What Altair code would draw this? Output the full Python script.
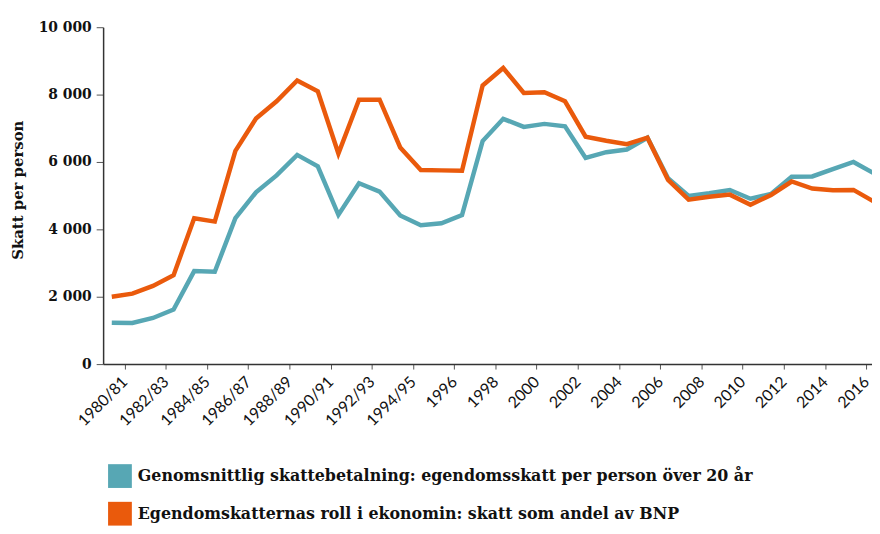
import altair as alt
import pandas as pd

periods = ["1980/81", "1981/82", "1982/83", "1983/84", "1984/85", "1985/86",
           "1986/87", "1987/88", "1988/89", "1989/90", "1990/91", "1991/92",
           "1992/93", "1993/94", "1994/95", "1995", "1996", "1997", "1998",
           "1999", "2000", "2001", "2002", "2003", "2004", "2005", "2006",
           "2007", "2008", "2009", "2010", "2011", "2012", "2013", "2014",
           "2015", "2016", "2017"]

per_person = [1230, 1220, 1370, 1620, 2760, 2740, 4330, 5100, 5600, 6210,
              5870, 4430, 5370, 5120, 4410, 4120, 4180, 4420, 6620, 7280,
              7040, 7130, 7060, 6120, 6290, 6370, 6720, 5520, 4990, 5070,
              5170, 4910, 5050, 5560, 5570, 5790, 6000, 5660]

share_of_gdp = [2000, 2090, 2320, 2640, 4330, 4230, 6330, 7290, 7800, 8420,
                8100, 6250, 7850, 7850, 6430, 5760, 5750, 5740, 8270, 8790,
                8050, 8070, 7800, 6750, 6630, 6530, 6720, 5470, 4880, 4970,
                5030, 4730, 5020, 5420, 5210, 5160, 5170, 4820]

series_names = [
    "Genomsnittlig skattebetalning: egendomsskatt per person över 20 år",
    "Egendomskatternas roll i ekonomin: skatt som andel av BNP",
]
colors = ["#57a7b4", "#ea5a0c"]

y_ticks = [0, 2000, 4000, 6000, 8000, 10000]
tick_labels = periods[0:37:2]
tick_shift = 0.62
tick_positions = [i + tick_shift for i in range(0, 37, 2)]

rows = []
for s, vals in zip(series_names, [per_person, share_of_gdp]):
    for i, (p, v) in enumerate(zip(periods, vals)):
        rows.append({"idx": i, "period": p, "series": s, "value": v})
df = pd.DataFrame(rows)

label_array = "[" + ",".join('"%s"' % t for t in tick_labels) + "]"
x_label_expr = "%s[round((datum.value - %s) / 2)]" % (label_array, tick_shift)

color_scale = alt.Scale(domain=series_names, range=colors)

x_enc = alt.X(
    "idx:Q",
    scale=alt.Scale(domain=[-0.42, 36.9], nice=False, zero=False),
    axis=alt.Axis(
        values=tick_positions, labelExpr=x_label_expr, labelAngle=-45,
        labelAlign="right", labelBaseline="middle", labelPadding=10,
        labelFont="Lato", labelFontSize=16, labelColor="#111",
        tickSize=5, tickColor="#555", domainColor="#333", domainWidth=1.5,
        grid=False, title=None, labelOverlap=False,
    ),
)
y_enc = alt.Y(
    "value:Q",
    scale=alt.Scale(domain=[0, 10000], nice=False),
    axis=alt.Axis(
        values=y_ticks,
        labelExpr="replace(format(datum.value, ','), ',', ' ')",
        labelFont="DejaVu Serif", labelFontWeight="bold", labelFontSize=14,
        labelColor="#111", labelPadding=5,
        tickSize=7, tickColor="#555", domainColor="#333", domainWidth=1.5,
        grid=False, title="Skatt per person", titleFont="DejaVu Serif",
        titleFontSize=15, titleFontWeight="bold", titleColor="#111",
        titleX=-78, titleY=164,
    ),
)

lines = alt.Chart(df).mark_line(strokeWidth=4.5, clip=True).encode(
    x=x_enc,
    y=y_enc,
    color=alt.Color("series:N", scale=color_scale, legend=None),
    detail="series:N",
)

legend_layer = alt.Chart(df).transform_filter("false").mark_point(
    shape="square", filled=True, opacity=1
).encode(
    x=alt.X("idx:Q"),
    y=alt.Y("value:Q"),
    color=alt.Color(
        "series:N", scale=color_scale,
        legend=alt.Legend(
            orient="none", legendX=5, legendY=441, direction="vertical",
            symbolType="square", symbolSize=576, symbolStrokeWidth=0,
            symbolOpacity=1, labelFont="DejaVu Serif", labelFontSize=16,
            labelFontWeight="bold", labelColor="#111", rowPadding=14,
            labelOffset=6, padding=0, title=None, labelLimit=0,
        ),
    ),
)

chart = alt.layer(lines, legend_layer).resolve_legend(
    color="independent"
).properties(
    width=776, height=340,
    padding={"left": 96, "top": 17, "right": 0, "bottom": 161},
    autosize=alt.AutoSizeParams(type="none"),
).configure_view(stroke=None)

chart.save("out.html", embed_options={"renderer": "svg", "actions": False})
